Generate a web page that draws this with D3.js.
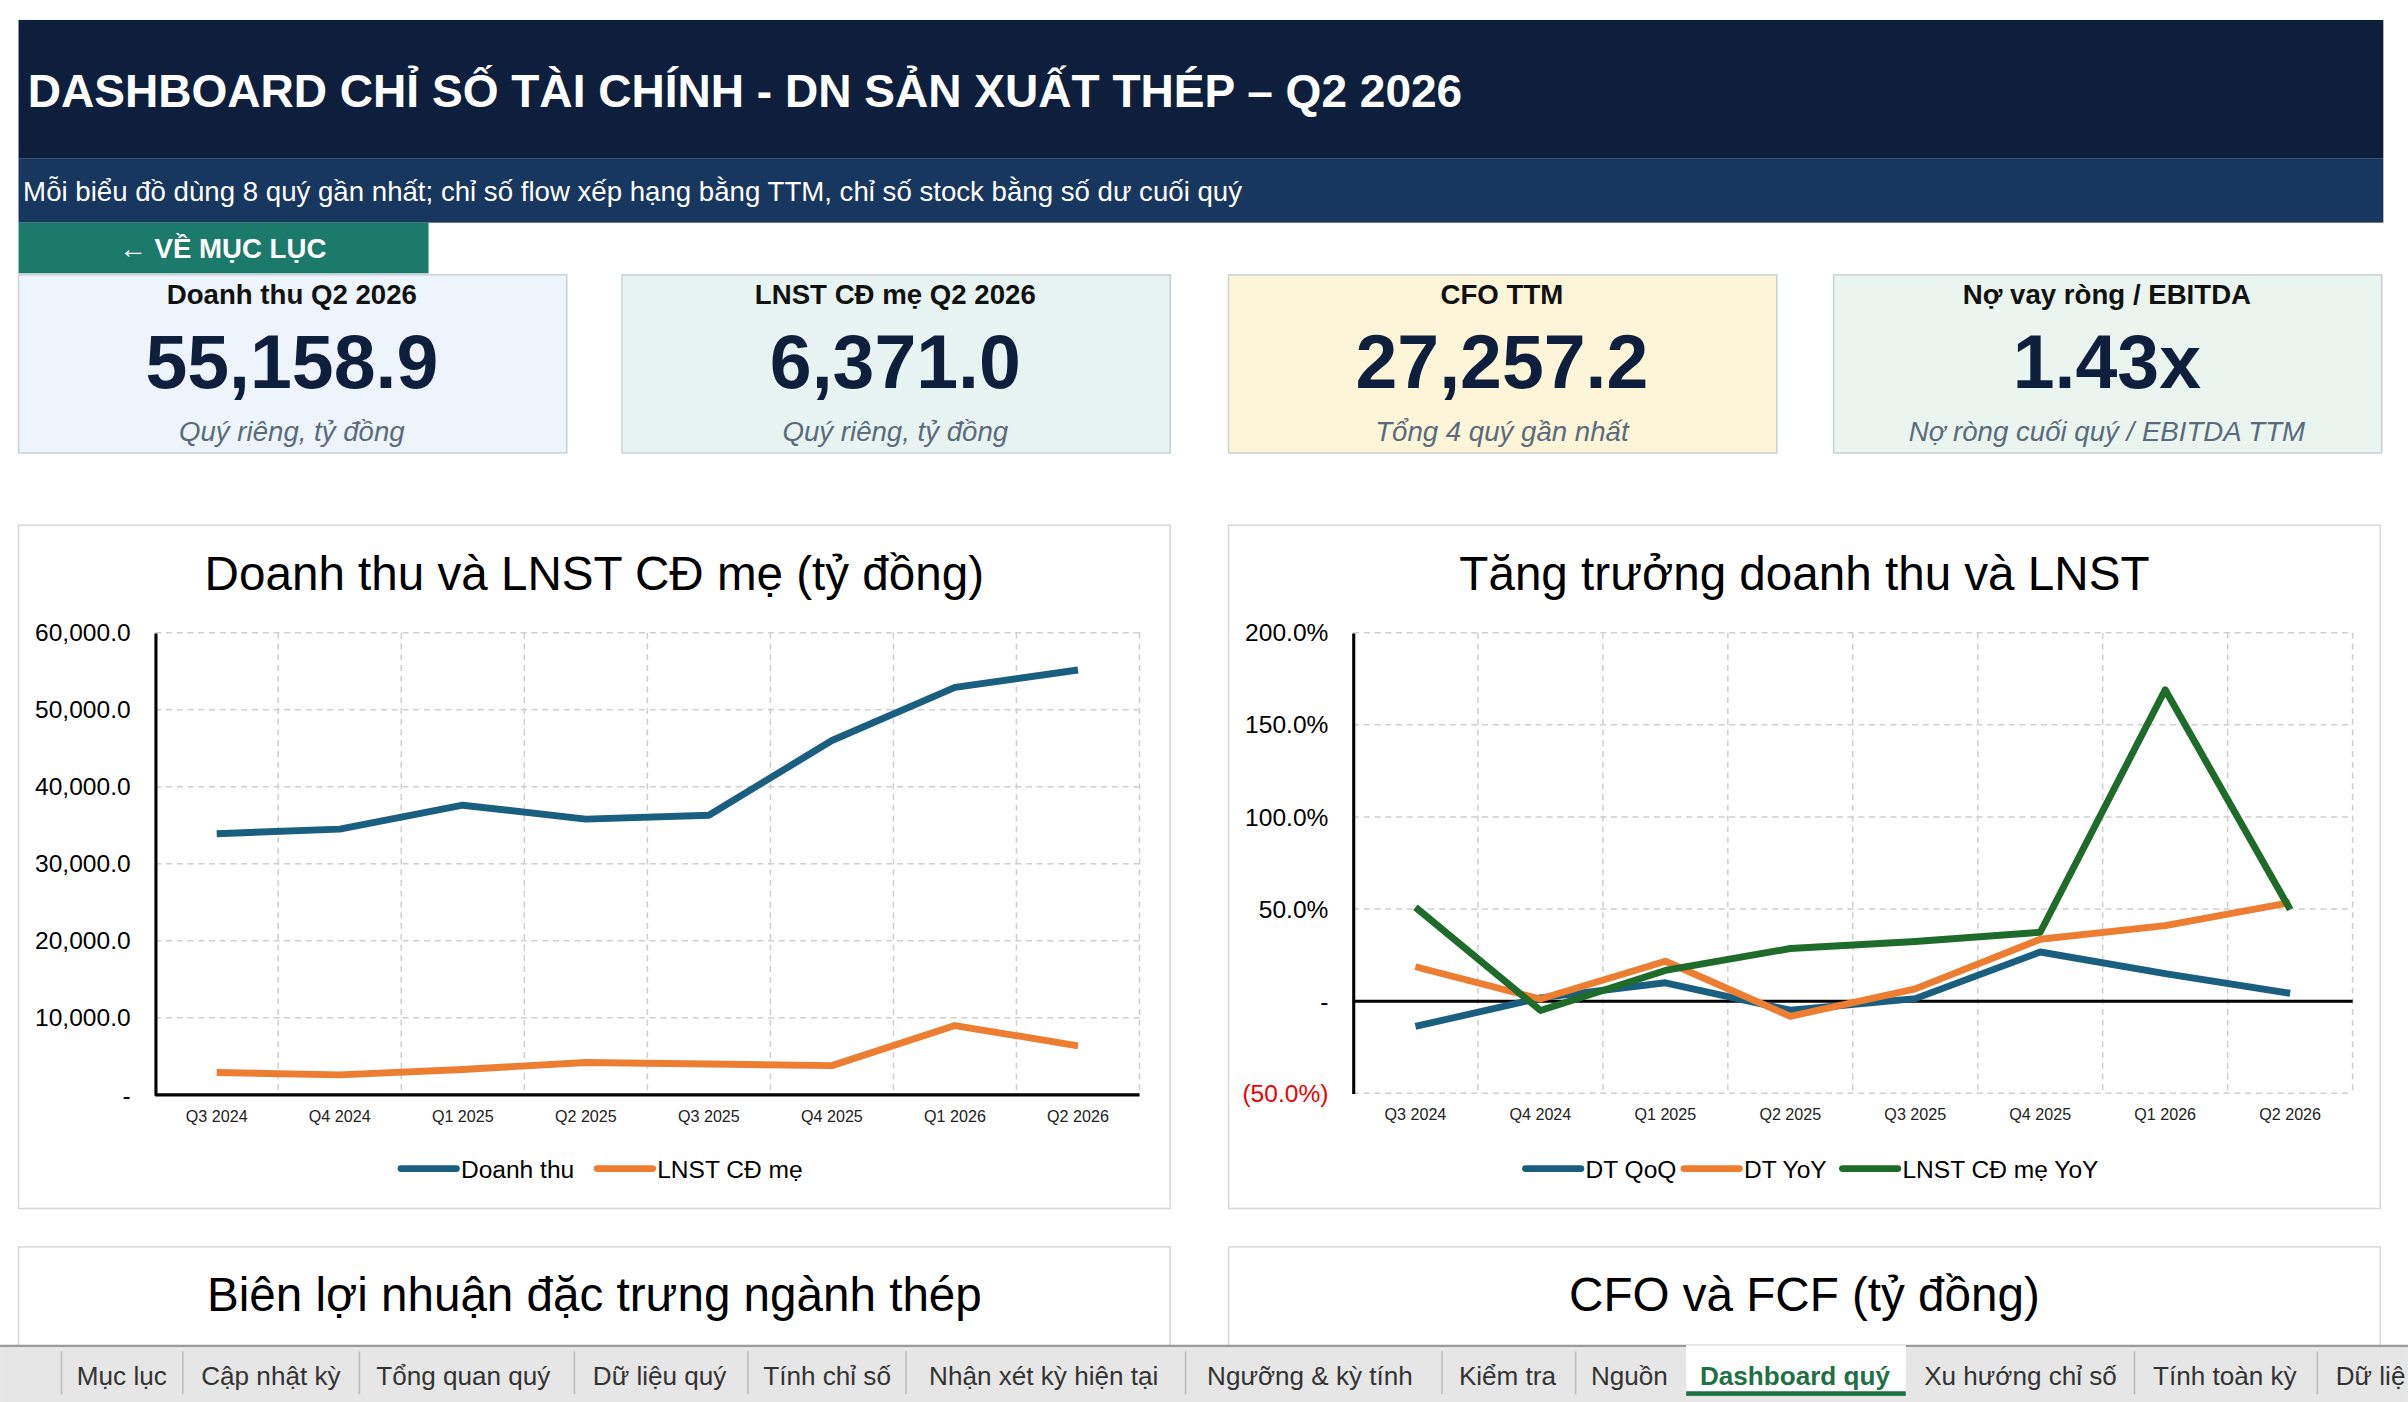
<!DOCTYPE html>
<html>
<head>
<meta charset="utf-8">
<title>Dashboard quý</title>
<script src="https://cdn.jsdelivr.net/npm/d3@7"></script>
<style>
  body { margin:0; background:#fff; overflow:hidden; }
  text { font-family: "Liberation Sans Narrow", "Liberation Sans", Arial, sans-serif; }
  .hdr { font-family: "Liberation Sans", Arial, sans-serif; }
</style>
</head>
<body>
<script>
// ---- data ----
var quarters = ["Q3 2024","Q4 2024","Q1 2025","Q2 2025","Q3 2025","Q4 2025","Q1 2026","Q2 2026"];
var revenue  = [33900, 34500, 37600, 35800, 36300, 46000, 52900, 55158.9];
var netProfit = [2900, 2600, 3300, 4200, 4000, 3800, 9000, 6371.0];
var revQoQ  = [-0.137, 0.018, 0.100, -0.049, 0.014, 0.267, 0.150, 0.043];
var revYoY  = [0.187, 0.012, 0.217, -0.082, 0.067, 0.336, 0.410, 0.535];
var npYoY   = [0.510, -0.050, 0.167, 0.286, 0.324, 0.374, 1.690, 0.498];
var kpiTitles = ["Doanh thu Q2 2026","LNST CĐ mẹ Q2 2026","CFO TTM","Nợ vay ròng / EBITDA"];
var kpiValues = ["55,158.9","6,371.0","27,257.2","1.43x"];
var kpiNotes  = ["Quý riêng, tỷ đồng","Quý riêng, tỷ đồng","Tổng 4 quý gần nhất","Nợ ròng cuối quý / EBITDA TTM"];
var kpiFills  = ["#edf4fb","#e8f4f1","#fdf5d8","#e9f5ee"];
var tabs = ["Mục lục","Cập nhật kỳ","Tổng quan quý","Dữ liệu quý","Tính chỉ số","Nhận xét kỳ hiện tại","Ngưỡng & kỳ tính","Kiểm tra","Nguồn","Dashboard quý","Xu hướng chỉ số","Tính toàn kỳ","Dữ liệ"];
var tabX   = [50,131,245,386,497,605,786,950,1036,1107,1253,1402,1521];
var tabSep = [40,119,234,374,487,590,772,939,1026,1390,1509];

var BLUE = "#1a5f80", ORANGE = "#ed7d31", GREEN = "#1e6b2a";

var svg = d3.select("body").append("svg")
  .attr("width", 2408).attr("height", 1402)
  .attr("viewBox", "0 0 1568 913");

// ---- header ----
svg.append("rect").attr("x",12).attr("y",13).attr("width",1540).attr("height",90).attr("fill","#0d1f3c");
svg.append("text").attr("class","hdr").attr("x",18).attr("y",70).attr("fill","#fff")
  .attr("font-size",30).attr("font-weight","bold")
  .text("DASHBOARD CHỈ SỐ TÀI CHÍNH - DN SẢN XUẤT THÉP – Q2 2026");
svg.append("rect").attr("x",12).attr("y",103).attr("width",1540).attr("height",42).attr("fill","#17375e");
svg.append("text").attr("class","hdr").attr("x",15).attr("y",131).attr("fill","#fff")
  .attr("font-size",18).text("Mỗi biểu đồ dùng 8 quý gần nhất; chỉ số flow xếp hạng bằng TTM, chỉ số stock bằng số dư cuối quý");
svg.append("rect").attr("x",12).attr("y",145).attr("width",267).attr("height",33).attr("fill","#1b7a6a");
svg.append("text").attr("class","hdr").attr("x",145).attr("y",168).attr("fill","#fff").attr("text-anchor","middle")
  .attr("font-size",18).attr("font-weight","bold").text("← VỀ MỤC LỤC");

// ---- KPI cards ----
var cardX = [12,405,800,1194];
kpiTitles.forEach(function(t,i){
  var g = svg.append("g").attr("transform","translate("+cardX[i]+",179)");
  g.append("rect").attr("width",357).attr("height",116).attr("fill",kpiFills[i]).attr("stroke","#c9d2da");
  g.append("text").attr("class","hdr").attr("x",178).attr("y",19).attr("text-anchor","middle")
    .attr("font-size",18).attr("font-weight","bold").attr("fill","#111").text(t);
  g.append("text").attr("class","hdr").attr("x",178).attr("y",74).attr("text-anchor","middle")
    .attr("font-size",49).attr("font-weight","bold").attr("fill","#0d1f3c").text(kpiValues[i]);
  g.append("text").attr("class","hdr").attr("x",178).attr("y",108).attr("text-anchor","middle")
    .attr("font-size",18).attr("font-style","italic").attr("fill","#5a6b7c").text(kpiNotes[i]);
});

// ---- chart helper ----
function chart(px, title, series, yDom, yStep, fmt, plot, zeroLine) {
  var g = svg.append("g");
  g.append("rect").attr("x",px).attr("y",342).attr("width",750).attr("height",445)
    .attr("fill","#fff").attr("stroke","#d9d9d9");
  g.append("text").attr("x",px+375).attr("y",384).attr("text-anchor","middle")
    .attr("font-size",31).attr("fill","#000").text(title);

  var x = d3.scaleBand().domain(quarters).range([plot.l, plot.r]);
  var y = d3.scaleLinear().domain(yDom).range([plot.b, plot.t]);
  var ticks = d3.range(yDom[0], yDom[1] + yStep/2, yStep);

  g.selectAll(".hg").data(ticks).join("line")
    .attr("x1",plot.l).attr("x2",plot.r).attr("y1",d=>y(d)).attr("y2",d=>y(d))
    .attr("stroke","#d0d0d0").attr("stroke-dasharray","4 3");
  var edges = quarters.map(q=>x(q)).slice(1).concat([plot.r]);
  g.selectAll(".vg").data(edges).join("line")
    .attr("x1",d=>d).attr("x2",d=>d).attr("y1",plot.t).attr("y2",plot.b)
    .attr("stroke","#d0d0d0").attr("stroke-dasharray","4 3");

  var yAx = g.append("g").attr("transform","translate("+plot.l+",0)")
    .call(d3.axisLeft(y).tickValues(ticks).tickSize(0).tickPadding(16).tickFormat(fmt));
  yAx.select(".domain").attr("stroke","#000").attr("stroke-width",2);
  yAx.selectAll("text").attr("font-size",16).attr("fill",d=>d<0?"#e00":"#000")
    .style("font-family","'Liberation Sans Narrow','Liberation Sans',sans-serif");

  var xAx = g.append("g").attr("transform","translate(0,"+plot.b+")")
    .call(d3.axisBottom(x).tickSize(0).tickPadding(10));
  xAx.select(".domain").remove();
  xAx.selectAll("text").attr("font-size",10.5).attr("fill","#222")
    .style("font-family","'Liberation Sans Narrow','Liberation Sans',sans-serif");

  g.append("line").attr("x1",plot.l).attr("x2",plot.r).attr("y1",y(0)).attr("y2",y(0))
    .attr("stroke","#000").attr("stroke-width",2);

  var line = d3.line().x((d,i)=>x(quarters[i])+x.bandwidth()/2).y(d=>y(d));
  series.forEach(function(s){
    g.append("path").datum(s.values).attr("d",line).attr("fill","none")
      .attr("stroke",s.color).attr("stroke-width",4.5).attr("stroke-linejoin","round");
  });

  // legend
  var items = series.map(s=>({s:s, w: 42 + s.name.length*8.2}));
  var total = d3.sum(items, d=>d.w) + (items.length-1)*12;
  var lx = px + 375 - total/2;
  items.forEach(function(it){
    g.append("line").attr("x1",lx).attr("x2",lx+36).attr("y1",761).attr("y2",761)
      .attr("stroke",it.s.color).attr("stroke-width",4.5).attr("stroke-linecap","round");
    g.append("text").attr("x",lx+39).attr("y",767).attr("font-size",16).attr("fill","#000").text(it.s.name);
    lx += it.w + 12;
  });
}

var numFmt = d3.format(",.1f");
chart(12, "Doanh thu và LNST CĐ mẹ (tỷ đồng)",
  [{name:"Doanh thu", values:revenue, color:BLUE},{name:"LNST CĐ mẹ", values:netProfit, color:ORANGE}],
  [0,60000], 10000, d=> d===0 ? "-" : numFmt(d),
  {l:101, r:742, t:412, b:713});

var pctFmt = d3.format(".1f");
chart(800, "Tăng trưởng doanh thu và LNST",
  [{name:"DT QoQ", values:revQoQ, color:BLUE},{name:"DT YoY", values:revYoY, color:ORANGE},{name:"LNST CĐ mẹ YoY", values:npYoY, color:GREEN}],
  [-0.5,2.0], 0.5, d=> Math.abs(d)<1e-9 ? "-" : (d<0 ? "("+pctFmt(-d*100)+"%)" : pctFmt(d*100)+"%"),
  {l:881, r:1532, t:412, b:712});

// ---- lower panels (cut off) ----
[[12,"Biên lợi nhuận đặc trưng ngành thép"],[800,"CFO và FCF (tỷ đồng)"]].forEach(function(p){
  svg.append("rect").attr("x",p[0]).attr("y",812).attr("width",750).attr("height",120)
    .attr("fill","#fff").attr("stroke","#d9d9d9");
  svg.append("text").attr("x",p[0]+375).attr("y",854).attr("text-anchor","middle")
    .attr("font-size",31).attr("fill","#000").text(p[1]);
});

// ---- sheet tabs ----
svg.append("rect").attr("x",0).attr("y",876).attr("width",1568).attr("height",37).attr("fill","#e6e6e6");
svg.append("line").attr("x1",0).attr("x2",1568).attr("y1",876.5).attr("y2",876.5).attr("stroke","#9a9a9a").attr("stroke-width",1.5);
svg.append("rect").attr("x",1098).attr("y",876).attr("width",143).attr("height",32).attr("fill","#fff");
svg.append("rect").attr("x",1098).attr("y",906).attr("width",143).attr("height",3).attr("fill","#1e7145");
tabSep.forEach(function(sx){
  svg.append("line").attr("x1",sx).attr("x2",sx).attr("y1",880).attr("y2",908).attr("stroke","#bdbdbd");
});
tabs.forEach(function(t,i){
  var active = t === "Dashboard quý";
  svg.append("text").attr("class","hdr").attr("x",tabX[i]).attr("y",902)
    .attr("font-size",17).attr("fill",active?"#1e7145":"#333")
    .attr("font-weight",active?"bold":"normal").text(t);
});
</script>
</body>
</html>
